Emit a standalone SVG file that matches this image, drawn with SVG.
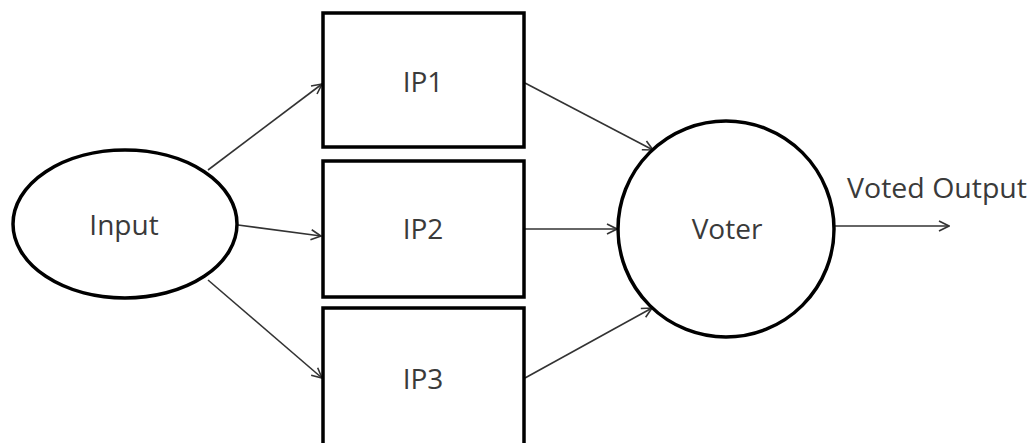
<svg xmlns="http://www.w3.org/2000/svg" width="1033" height="443" viewBox="0 0 1033 443">
<style>
.node{fill:#fff;stroke:#000;stroke-width:3.5}
.lbl{font-family:"Open Sans","Liberation Sans",sans-serif;font-size:28px;fill:#3a3a3a;text-anchor:middle}
.edge{stroke:#333;stroke-width:1.6;fill:none;marker-end:url(#ah)}
</style>
<defs>
<marker id="ah" viewBox="0 0 12 12" refX="11" refY="6" markerWidth="12" markerHeight="12" markerUnits="userSpaceOnUse" orient="auto">
<path d="M1,1 L11,6 L1,11" fill="none" stroke="#333" stroke-width="1.6"/>
</marker>
</defs>
<rect width="1033" height="443" fill="#fff"/>
<g id="connectors">
<line class="edge" x1="208" y1="170" x2="322" y2="84"/>
<line class="edge" x1="238" y1="225" x2="321" y2="236"/>
<line class="edge" x1="208" y1="280" x2="322" y2="378"/>
<line class="edge" x1="525" y1="83" x2="653" y2="150"/>
<line class="edge" x1="525" y1="229" x2="617" y2="229"/>
<line class="edge" x1="525" y1="378" x2="652" y2="308"/>
<line class="edge" x1="834" y1="226" x2="949" y2="226"/>
</g>
<g id="input">
<ellipse class="node" cx="125" cy="224" rx="112" ry="74"/>
<text class="lbl" x="124" y="235">Input</text>
</g>
<g id="ip1">
<rect class="node" x="323" y="13" width="201" height="134"/>
<text class="lbl" x="423" y="92">IP1</text>
</g>
<g id="ip2">
<rect class="node" x="323" y="161" width="201" height="136"/>
<text class="lbl" x="423" y="239">IP2</text>
</g>
<g id="ip3">
<rect class="node" x="323" y="308" width="201" height="145"/>
<text class="lbl" x="423" y="389">IP3</text>
</g>
<g id="voter">
<circle class="node" cx="726" cy="229" r="108"/>
<text class="lbl" x="727" y="239">Voter</text>
</g>
<g id="voted-output">
<text class="lbl" x="937" y="198" textLength="180" lengthAdjust="spacingAndGlyphs">Voted Output</text>
</g>
</svg>
